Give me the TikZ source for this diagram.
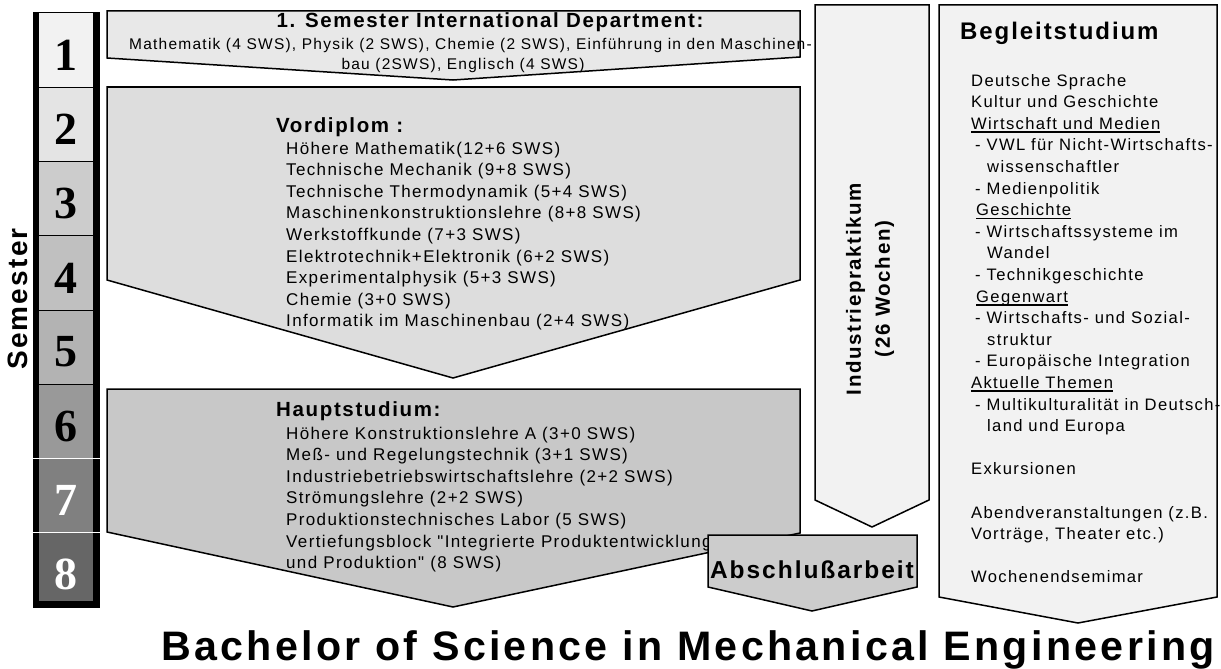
\documentclass[tikz,border=0pt]{standalone}
\usepackage{fontspec}
\setmainfont{Liberation Sans}[LetterSpace=8, Ligatures=TeXOff]
\newfontfamily\semnumfont{Liberation Serif}
\usepackage{tikz}
\definecolor{semA}{HTML}{f2f2f2}
\definecolor{semB}{HTML}{e4e4e4}
\definecolor{semC}{HTML}{cccccc}
\definecolor{semD}{HTML}{c0c0c0}
\definecolor{semE}{HTML}{b3b3b3}
\definecolor{semF}{HTML}{999999}
\definecolor{semG}{HTML}{808080}
\definecolor{semH}{HTML}{666666}
\definecolor{firstbg}{HTML}{e8e8e8}
\definecolor{vordbg}{HTML}{dddddd}
\definecolor{hauptbg}{HTML}{c8c8c8}
\definecolor{abschbg}{HTML}{cccccc}
\definecolor{sidebg}{HTML}{f2f2f2}
\newcommand{\ulbox}[1]{\leavevmode\setbox0=\hbox{#1}\rlap{\rule[-3.5pt]{\wd0}{1.5pt}}\box0}

\tikzset{
  shapeline/.style={draw=black, line width=1.5pt, line join=miter},
  bodytxt/.style={inner sep=0pt, anchor=base west, font=\fontsize{17}{21.6}\selectfont},
  sidetxt/.style={bodytxt, font=\fontsize{16.6}{21.6}\selectfont},
  headtxt/.style={inner sep=0pt, anchor=base west, font=\bfseries\fontsize{20.5}{24}\selectfont},
  semnum/.style={inner sep=0pt, font=\semnumfont\bfseries\fontsize{46}{46}\selectfont},
}

\begin{document}
\begin{tikzpicture}[x=1pt, y=-1pt]
  \useasboundingbox (0,0) rectangle (1221,669);

  % Semester column (cells 74.25 high)
  \fill[black] (33,12) rectangle (100,608);
  \foreach \i/\col in {1/semA, 2/semB, 3/semC, 4/semD, 5/semE, 6/semF, 7/semG, 8/semH} {
    \fill[\col] (39,{13+74.25*(\i-1)}) rectangle (93,{min(13+74.25*\i,601)});
  }
  \foreach \i in {1,...,5} {
    \draw[black, line width=1pt] (39,{13+74.25*\i}) -- (93,{13+74.25*\i});
  }
  \foreach \i in {6,7} {
    \draw[white, line width=1.2pt] (33,{13+74.25*\i}) -- (100,{13+74.25*\i});
  }
  \foreach \i/\tc in {1/black, 2/black, 3/black, 4/black, 5/black, 6/black, 7/white, 8/white} {
    \node[semnum, text=\tc] (sem\i) at (66,{13+74.25*(\i-0.5)+5}) {\i};
  }
  \node[rotate=90, inner sep=0pt, font=\bfseries\fontsize{28}{28}\selectfont] (semlabel) at (18,299) {Semester};

  % 1. Semester
  \draw[shapeline, fill=firstbg] (107,11) -- (800,11) -- (800,57) -- (453,80) -- (107,58) -- cycle;
  \node[headtxt, anchor=base] (firsthead) at (490,28) {1. Semester International Department:};
  \node[inner sep=0pt, anchor=base west, font=\fontsize{15.5}{20}\selectfont] (firstA) at (129,50)
    {Mathematik (4 SWS), Physik (2 SWS), Chemie (2 SWS), Einführung in den Maschinen-};
  \node[inner sep=0pt, anchor=base, font=\fontsize{15.5}{20}\selectfont] (firstB) at (463,70)
    {bau (2SWS), Englisch (4 SWS)};

  % Vordiplom
  \draw[shapeline, fill=vordbg] (107,87) -- (800,87) -- (800,280) -- (453,378) -- (107,280) -- cycle;
  \node[headtxt] (vordhead) at (276,132) {Vordiplom :};
  \foreach \k/\txt in {0/Höhere Mathematik(12+6 SWS), 1/Technische Mechanik (9+8 SWS),
      2/Technische Thermodynamik (5+4 SWS), 3/Maschinenkonstruktionslehre (8+8 SWS),
      4/Werkstoffkunde (7+3 SWS), 5/Elektrotechnik+Elektronik (6+2 SWS),
      6/Experimentalphysik (5+3 SWS), 7/Chemie (3+0 SWS), 8/Informatik im Maschinenbau (2+4 SWS)} {
    \node[bodytxt] (vord\k) at (286,{154+21.6*\k}) {\txt};
  }

  % Hauptstudium
  \draw[shapeline, fill=hauptbg] (107,389) -- (800,389) -- (800,533) -- (453,607) -- (107,532) -- cycle;
  \node[headtxt] (haupthead) at (276,416) {Hauptstudium:};
  \foreach \k/\txt in {0/Höhere Konstruktionslehre A (3+0 SWS), 1/Meß- und Regelungstechnik (3+1 SWS),
      2/Industriebetriebswirtschaftslehre (2+2 SWS), 3/Strömungslehre (2+2 SWS),
      4/Produktionstechnisches Labor (5 SWS), 5/Vertiefungsblock "Integrierte Produktentwicklung,
      6/und Produktion" (8 SWS)} {
    \node[bodytxt] (haupt\k) at (286,{439+21.6*\k}) {\txt};
  }

  % Abschlussarbeit
  \draw[shapeline, fill=abschbg] (708,535) -- (917,535) -- (917,587) -- (812,611) -- (708,587) -- cycle;
  \node[inner sep=0pt, anchor=base, font=\bfseries\fontsize{24.5}{28}\selectfont] (abschluss) at (812,578) {Abschlußarbeit};

  % Industriepraktikum
  \draw[shapeline, fill=sidebg] (815,5) -- (929,5) -- (929,500) -- (872,527) -- (815,500) -- cycle;
  \node[rotate=90, align=center, inner sep=0pt, font=\bfseries\fontsize{20.5}{29}\selectfont] (praktikum) at (870,289)
    {Industriepraktikum\\(26 Wochen)};

  % Begleitstudium
  \draw[shapeline, fill=sidebg] (939,5) -- (1217,5) -- (1217,597) -- (1078,623) -- (939,597) -- cycle;
  \node[inner sep=0pt, anchor=base west, font=\bfseries\fontsize{24}{28}\selectfont] (begleithead) at (960,40) {Begleitstudium};
  \foreach \k/\dx/\txt in {0/971/Deutsche Sprache, 1/971/Kultur und Geschichte,
      2/971/\ulbox{Wirtschaft und Medien}, 3/975/- VWL für Nicht-Wirtschafts-,
      4/987/wissenschaftler, 5/975/- Medienpolitik, 6/976/\ulbox{Geschichte},
      7/975/- Wirtschaftssysteme im, 8/987/Wandel, 9/975/- Technikgeschichte,
      10/976/\ulbox{Gegenwart}, 11/975/- Wirtschafts- und Sozial-, 12/987/struktur,
      13/975/- Europäische Integration, 14/971/\ulbox{Aktuelle Themen},
      15/975/- Multikulturalität in Deutsch-, 16/987/land und Europa,
      18/971/Exkursionen, 20/971/Abendveranstaltungen (z.B., 21/971/{Vorträge, Theater etc.)},
      23/971/Wochenendsemimar} {
    \node[sidetxt] (begl\k) at (\dx,{86+21.6*\k}) {\txt};
  }

  % Title
  \node[inner sep=0pt, anchor=base, font=\bfseries\fontsize{41.2}{44}\selectfont] (title) at (688,660)
    {Bachelor of Science in Mechanical Engineering};
\end{tikzpicture}
\end{document}
